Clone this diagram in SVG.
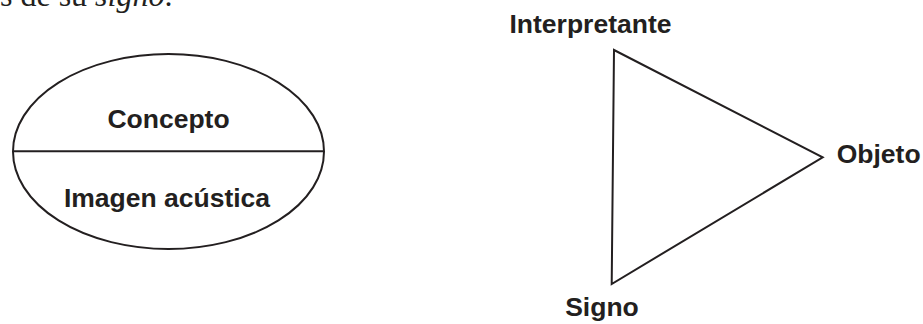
<svg xmlns="http://www.w3.org/2000/svg" width="923" height="324" viewBox="0 0 923 324">
<style>
.lbl{font-family:"Liberation Sans",Arial,Helvetica,sans-serif;font-weight:bold;font-size:26.5px;fill:#231f20}
.shape{fill:none;stroke:#231f20;stroke-width:2}
.cap{font-family:"Liberation Serif","Times New Roman",serif;font-size:32px;fill:#231f20}
</style>
<rect width="923" height="324" fill="#ffffff"/>
<text class="cap" x="0" y="6">s de su <tspan font-style="italic">signo</tspan>.</text>
<g id="saussure">
<ellipse class="shape" cx="168.5" cy="151.5" rx="155.5" ry="97.5"/>
<line class="shape" x1="13" y1="151.3" x2="324" y2="151.3"/>
<text class="lbl" x="168.5" y="128" text-anchor="middle">Concepto</text>
<text class="lbl" x="167" y="206.5" text-anchor="middle">Imagen acústica</text>
</g>
<g id="connectors">
<polygon class="shape" points="614,50 822.7,157.3 611.7,284"/>
</g>
<g id="interpretante"><text class="lbl" x="590.5" y="33.3" text-anchor="middle">Interpretante</text></g>
<g id="objeto"><text class="lbl" x="836.7" y="163.3">Objeto</text></g>
<g id="signo"><text class="lbl" x="602" y="316" text-anchor="middle">Signo</text></g>
</svg>
